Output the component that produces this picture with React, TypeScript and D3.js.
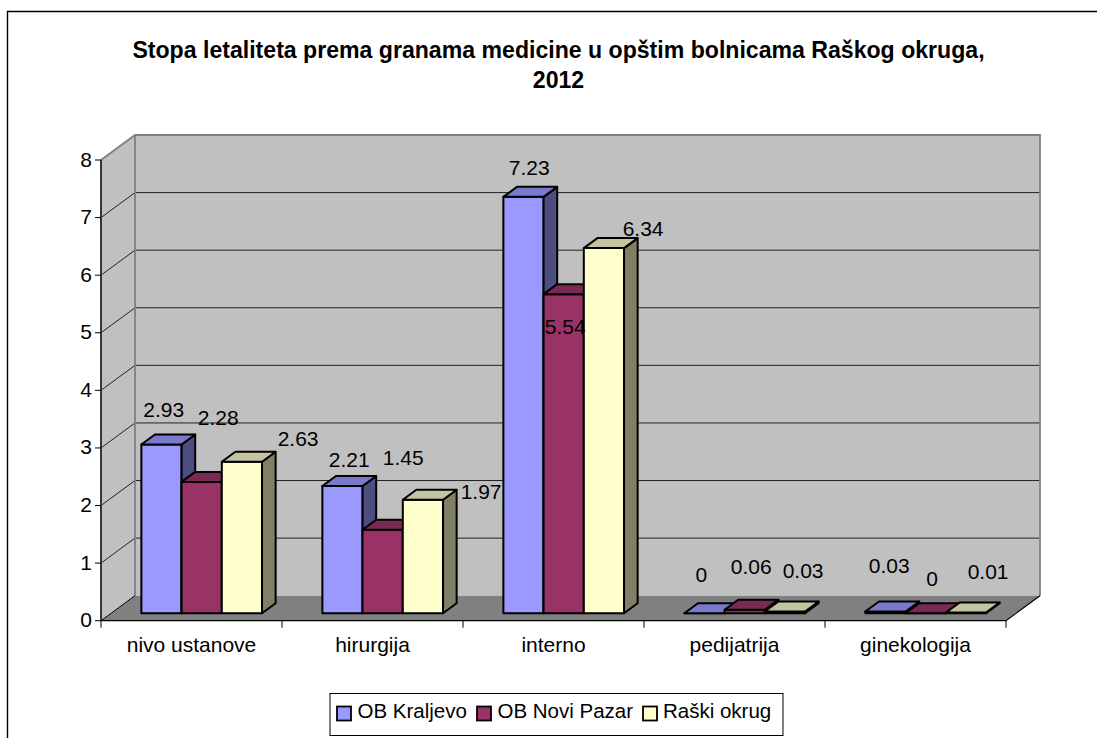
import * as d3 from "d3";

const categories = ["nivo ustanove", "hirurgija", "interno", "pedijatrija", "ginekologija"];
const seriesNames = ["OB Kraljevo", "OB Novi Pazar", "Raški okrug"];
const kraljevo = [2.93, 2.21, 7.23, 0, 0.03];
const noviPazar = [2.28, 1.45, 5.54, 0.06, 0];
const raskiOkrug = [2.63, 1.97, 6.34, 0.03, 0.01];
const seriesValues = [kraljevo, noviPazar, raskiOkrug];
const titleLines = ["Stopa letaliteta prema granama medicine u opštim bolnicama Raškog okruga,", "2012"];

// Hand-placed data label nudges from the top centre of each bar: [category][series] -> [dx, dy]
const labelNudges: [number, number][][] = [
  [[2.3, -35], [16.5, -64.7], [56.2, -23.5]],
  [[6.8, -26.8], [20.5, -72.6], [58.2, -8.6]],
  [[5.8, -29], [1.5, 32.4], [39.2, -19.5]],
  [[-3.2, -38.3], [6.5, -43.8], [18.2, -40.6]],
  [[3.8, -45.6], [6.5, -34.3], [22.2, -40.7]],
];

const FONT = "'Liberation Sans', Arial, sans-serif";
const LABEL_SIZE = 21;
const LEGEND_SIZE = 20.5;
const fills = ["#9999FF", "#993366", "#FFFFCC"];
const topFills = ["#7A7ACC", "#7A2952", "#C4C4A0"];
const sideFills = ["#4D4D80", "#4D1A33", "#808066"];

// Oblique projection of the chart box: depth 1 is the back wall
const DX = 34;
const DY = -25;
const BAR_FRONT = 0.3;
const BAR_BACK = 0.7;

const x = d3.scaleBand<string>().domain(categories).range([101, 1006]);
const y = d3.scaleLinear().domain([0, 8]).range([620.7, 160]);
const seriesX = d3
  .scaleBand<string>()
  .domain(seriesNames)
  .range([0, x.bandwidth()])
  .paddingOuter(0.75)
  .paddingInner(0);

const pt = (px: number, py: number, depth: number) => `${px + DX * depth},${py + DY * depth}`;
const poly = (...points: string[]) => points.join(" ");

const legendItems = [
  { swatch: 337, text: 357.5 },
  { swatch: 477, text: 497.5 },
  { swatch: 643, text: 663 },
];

export default function App() {
  const x0 = x.range()[0];
  const x1 = x.range()[1];
  const y0 = y(0);
  const yTop = y(8);
  const ticks = y.ticks(8);
  const edges = [...categories.map((c) => x(c) as number), x1];

  return (
    <svg
      width={1097}
      height={738}
      viewBox="0 0 1097 738"
      style={{ position: "absolute", left: 0, top: 0, display: "block", background: "#fff", fontFamily: FONT }}
    >
      {/* Chart area frame, open at the right and bottom */}
      <path d="M7.5,738 V11.5 H1097" fill="none" stroke="#000" strokeWidth={1.4} />

      {titleLines.map((line, i) => (
        <text key={i} x={558.5} y={57.5 + i * 30} textAnchor="middle" fontSize={23.1} fontWeight={700} fill="#000">
          {line}
        </text>
      ))}

      {/* Walls and floor */}
      <polygon points={poly(pt(x0, y0, 0), pt(x0, yTop, 0), pt(x0, yTop, 1), pt(x0, y0, 1))} fill="#C0C0C0" />
      <polygon points={poly(pt(x0, y0, 1), pt(x0, yTop, 1), pt(x1, yTop, 1), pt(x1, y0, 1))} fill="#C0C0C0" />
      <polygon points={poly(pt(x0, y0, 0), pt(x1, y0, 0), pt(x1, y0, 1), pt(x0, y0, 1))} fill="#808080" />

      {ticks.slice(1, -1).map((t) => (
        <path
          key={t}
          d={`M${pt(x0, y(t), 0)} L${pt(x0, y(t), 1)} L${pt(x1, y(t), 1)}`}
          fill="none"
          stroke="#222"
          strokeWidth={1}
        />
      ))}
      <path
        d={`M${pt(x0, y0, 0)} L${pt(x0, yTop, 0)} L${pt(x0, yTop, 1)} L${pt(x1, yTop, 1)} L${pt(x1, y0, 1)} M${pt(x0, y0, 1)} L${pt(x0, yTop, 1)}`}
        fill="none"
        stroke="#808080"
        strokeWidth={1.8}
      />

      {/* Axes */}
      <path d={`M${x0},${yTop} V${y0} H${x1} L${pt(x1, y0, 1)}`} fill="none" stroke="#000" strokeWidth={1.2} />
      <path d={`M${x0},${y0} L${pt(x0, y0, 1)}`} fill="none" stroke="#000" strokeWidth={1} />
      {ticks.map((t) => (
        <g key={t}>
          <line x1={x0 - 6} x2={x0} y1={y(t)} y2={y(t)} stroke="#000" strokeWidth={1} />
          <text x={92} y={y(t) - 1} dy="0.36em" textAnchor="end" fontSize={LABEL_SIZE} fill="#000">
            {t}
          </text>
        </g>
      ))}
      {edges.map((e) => (
        <line key={e} x1={e} x2={e} y1={y0} y2={y0 + 7} stroke="#000" strokeWidth={1} />
      ))}
      {categories.map((c) => (
        <text
          key={c}
          x={(x(c) as number) + x.bandwidth() / 2}
          y={651.5}
          textAnchor="middle"
          fontSize={LABEL_SIZE}
          fill="#000"
        >
          {c}
        </text>
      ))}

      {/* Bars */}
      {categories.map((c, i) =>
        seriesNames.map((s, j) => {
          const value = seriesValues[j][i];
          const l = (x(c) as number) + (seriesX(s) as number);
          const r = l + seriesX.bandwidth();
          const top = y(value);
          return (
            <g key={`${c}-${s}`} stroke="#000" strokeWidth={2} strokeLinejoin="round">
              <polygon
                points={poly(pt(l, y0, BAR_FRONT), pt(l, top, BAR_FRONT), pt(r, top, BAR_FRONT), pt(r, y0, BAR_FRONT))}
                fill={fills[j]}
              />
              <polygon
                points={poly(pt(r, y0, BAR_FRONT), pt(r, top, BAR_FRONT), pt(r, top, BAR_BACK), pt(r, y0, BAR_BACK))}
                fill={sideFills[j]}
              />
              <polygon
                points={poly(pt(l, top, BAR_FRONT), pt(l, top, BAR_BACK), pt(r, top, BAR_BACK), pt(r, top, BAR_FRONT))}
                fill={topFills[j]}
              />
            </g>
          );
        })
      )}

      {/* Data labels */}
      {categories.map((c, i) =>
        seriesNames.map((s, j) => {
          const value = seriesValues[j][i];
          const cx = (x(c) as number) + (seriesX(s) as number) + seriesX.bandwidth() / 2 + DX * BAR_FRONT;
          const top = y(value) + DY * BAR_FRONT;
          const [dx, dy] = labelNudges[i][j];
          return (
            <text key={`${c}-${s}-label`} x={cx + dx} y={top + dy} dy="0.36em" textAnchor="middle" fontSize={LABEL_SIZE} fill="#000">
              {value}
            </text>
          );
        })
      )}

      {/* Legend */}
      <rect x={330} y={693.5} width={453} height={42} fill="#fff" stroke="#000" strokeWidth={1} />
      {seriesNames.map((s, j) => (
        <g key={s}>
          <rect x={legendItems[j].swatch} y={706.5} width={14} height={14} fill={fills[j]} stroke="#000" strokeWidth={1.8} />
          <text x={legendItems[j].text} y={718} fontSize={LEGEND_SIZE} fill="#000">
            {s}
          </text>
        </g>
      ))}
    </svg>
  );
}
